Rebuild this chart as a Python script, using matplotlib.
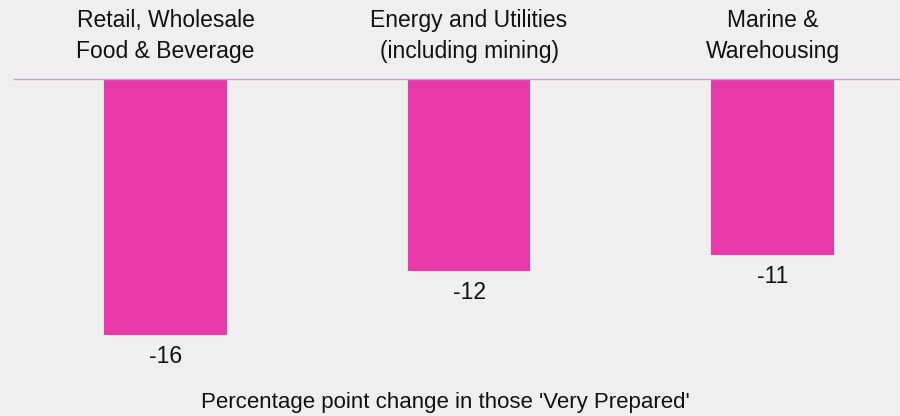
import matplotlib
matplotlib.use("Agg")
import matplotlib.pyplot as plt

categories = ["Retail, Wholesale\nFood & Beverage",
              "Energy and Utilities\n(including mining)",
              "Marine &\nWarehousing"]
values = [-16, -12, -11]
xlabel = "Percentage point change in those 'Very Prepared'"

BG = "#efefef"
BAR = "#e938a7"
TXT = "#111111"
FONT = ["Liberation Sans", "DejaVu Sans"]

plt.rcParams["font.family"] = FONT

W, H = 900, 416
fig = plt.figure(figsize=(W / 100, H / 100), dpi=100, facecolor=BG)

# axes: zero line sits at the top edge, 16 px per percentage point
left_px, width_px = 13.75, 910.5
top_px, height_px = 78.7, 320.0
ax = fig.add_axes([left_px / W, (H - top_px - height_px) / H, width_px / W, height_px / H])
ax.set_facecolor(BG)
ax.set_xlim(-0.5, len(values) - 0.5)
ax.set_ylim(-height_px / 16, 0)

x = list(range(len(values)))
ax.bar(x, values, width=0.405, color=BAR, zorder=2)

for s in ["left", "right", "bottom"]:
    ax.spines[s].set_visible(False)
ax.spines["top"].set_color("#c7a3bf")
ax.spines["top"].set_linewidth(1.0)
ax.set_xticks([])
ax.set_yticks([])

for xi, v, cat in zip(x, values, categories):
    ax.annotate(f"{v}", xy=(xi, v), xytext=(0, -7.5), textcoords="offset points",
                ha="center", va="top", fontsize=16.5, color=TXT)
    ax.annotate(cat, xy=(xi, 1.0), xycoords=("data", "axes fraction"),
                xytext=(0, 31), textcoords="offset points",
                ha="center", va="center", fontsize=16.5, color=TXT,
                linespacing=1.45)

fig.text(445 / W, (H - 408) / H, xlabel, ha="center", va="baseline",
         fontsize=16, color=TXT)

fig.savefig("out.png", dpi=100, facecolor=BG)
